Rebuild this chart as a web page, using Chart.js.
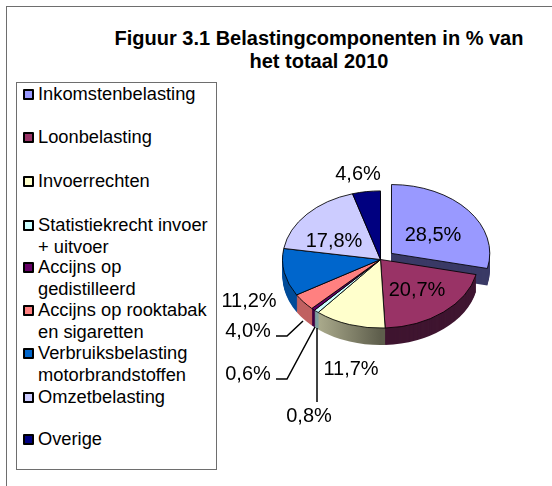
<!DOCTYPE html>
<html>
<head>
<meta charset="utf-8">
<script src="https://cdn.jsdelivr.net/npm/chart.js@4"></script>
<style>
  html, body { margin: 0; padding: 0; background: #fff; }
  #wrap { position: relative; width: 552px; height: 486px; overflow: hidden; font-family: "Liberation Sans", Arial, sans-serif; color: #000; }
  #frame { position: absolute; left: 6px; top: 6px; width: 700px; height: 700px; border: 1px solid #6e6e6e; }
  #title { position: absolute; left: 80px; top: 27px; width: 478px; text-align: center; font-weight: bold; font-size: 20px; line-height: 23px; }
  #legend { position: absolute; left: 16px; top: 82px; width: 199px; height: 386px; border: 1px solid #6e6e6e; margin: 0; padding: 0; list-style: none; }
  #legend li { position: absolute; left: 6px; font-size: 18.3px; line-height: 21.5px; padding-left: 15px; white-space: pre; }
  #legend i { position: absolute; left: 0; top: 6px; width: 7px; height: 7px; border: 2px solid #000; border-radius: 1px; }
  canvas { position: absolute; left: 0; top: 0; }
</style>
</head>
<body>
<div id="wrap">
  <div id="frame"></div>
  <div id="title">Figuur 3.1 Belastingcomponenten in % van<br>het totaal 2010</div>
  <ul id="legend"></ul>
  <canvas id="pie" width="552" height="486"></canvas>
</div>
<script>
const categories = ['Inkomstenbelasting', 'Loonbelasting', 'Invoerrechten', 'Statistiekrecht invoer\n+ uitvoer', 'Accijns op\ngedistilleerd', 'Accijns op rooktabak\nen sigaretten', 'Verbruiksbelasting\nmotorbrandstoffen', 'Omzetbelasting', 'Overige'];
const values = [28.5, 20.7, 11.7, 0.8, 0.6, 4.0, 11.2, 17.8, 4.6];
const colors = ['#9999ff', '#993366', '#ffffcc', '#ccffff', '#660066', '#ff8080', '#0066cc', '#ccccff', '#000080'];
const wallColors = ['#3a3a66', '#3f1530', '#8f8f70', '#7fa0a0', '#400040', '#c06060', '#004c99', '#9999cc', '#000050'];
const legendTops = [83, 126, 170, 214, 256, 299, 342, 386, 428];
// label position + optional leader line for each slice
const labelSpots = [[433, 235], [417, 290], [351, 369], [309, 416], [248, 374], [248, 331], [249, 301], [334, 241], [358, 174]];
const leaders = [null, null, null, [[317, 328], [317, 402]], [[315, 327], [287, 379], [276, 379]], [[303, 321], [287, 336], [276, 336]], null, null, null];
// back to front, so nearer walls cover the ones behind
const wallOrder = [0, 8, 7, 6, 5, 4, 3, 1, 2];

const squash = 0.7;
const depth = 17;

// html legend, built from the category list
const legendEl = document.getElementById('legend');
categories.forEach((name, i) => {
  const li = document.createElement('li');
  li.style.top = legendTops[i] - 83 + 'px';
  li.textContent = name;
  const box = document.createElement('i');
  box.style.background = colors[i];
  li.appendChild(box);
  legendEl.appendChild(li);
});

// flatten the arcs and give them a side wall
const pie3d = {
  id: 'pie3d',
  beforeDatasetsDraw(chart) {
    const ctx = chart.ctx;
    const arcs = chart.getDatasetMeta(0).data;
    const cy = arcs[1].y;
    ctx.save();
    ctx.translate(0, cy);
    ctx.scale(1, squash);
    ctx.translate(0, -cy);
    wallOrder.forEach(i => {
      const arc = arcs[i];
      const wall = Object.create(arc);
      let fill = wallColors[i];
      if (i === 2) {
        fill = ctx.createLinearGradient(arc.x - 70, 0, arc.x, 0);
        fill.addColorStop(0, '#b4b494');
        fill.addColorStop(1, '#5e5e4c');
      }
      wall.options = Object.assign({}, arc.options, { backgroundColor: fill, borderColor: fill, borderWidth: 0 });
      for (let d = depth; d > 0; d--) {
        ctx.save();
        ctx.translate(0, d / squash);
        wall.draw(ctx);
        ctx.restore();
      }
    });
  },
  afterDatasetsDraw(chart) {
    const ctx = chart.ctx;
    ctx.restore();
    ctx.save();
    ctx.font = '20px "Liberation Sans", Arial, sans-serif';
    ctx.fillStyle = '#000';
    ctx.textAlign = 'center';
    ctx.textBaseline = 'middle';
    values.forEach((v, i) => {
      ctx.fillText(v.toFixed(1).replace('.', ',') + '%', labelSpots[i][0], labelSpots[i][1]);
    });
    ctx.strokeStyle = '#000';
    ctx.lineWidth = 1.5;
    leaders.forEach(pts => {
      if (!pts) return;
      ctx.beginPath();
      pts.forEach((p, k) => k ? ctx.lineTo(p[0], p[1]) : ctx.moveTo(p[0], p[1]));
      ctx.stroke();
    });
    ctx.restore();
  }
};

new Chart(document.getElementById('pie').getContext('2d'), {
  type: 'pie',
  data: {
    labels: categories,
    datasets: [{
      data: values,
      backgroundColor: colors,
      borderColor: '#000',
      borderWidth: 1,
      offset: values.map((v, i) => i === 0 ? 56 : 0)
    }]
  },
  options: {
    responsive: false,
    animation: false,
    layout: { padding: { left: 254, right: 45, top: 133, bottom: 100 } },
    plugins: { legend: { display: false }, title: { display: false }, tooltip: { enabled: false } }
  },
  plugins: [pie3d]
});
</script>
</body>
</html>
